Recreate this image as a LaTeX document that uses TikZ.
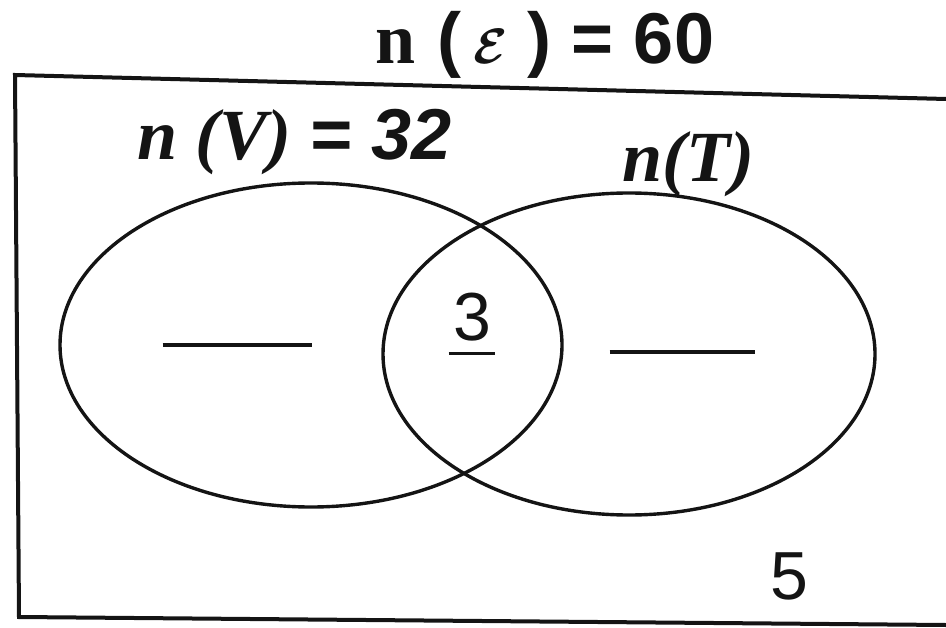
\documentclass[tikz,border=0pt]{standalone}
\usepackage{fontspec}
\usepackage{amsmath}
\usepackage{bm}
\setsansfont{Liberation Sans}
\newfontfamily\heavyserif{Liberation Serif}
\usetikzlibrary{positioning, calc}
\definecolor{myink}{RGB}{20,20,20}
\tikzset{
  setline/.style={line width=1.7pt, color=myink},
  frameline/.style={line width=2pt, color=myink, line join=miter},
  biglabel/.style={inner sep=0pt, font=\fontsize{36}{42}\selectfont, text=myink},
  numlabel/.style={inner sep=0pt, font=\fontsize{34}{40}\selectfont\sffamily, text=myink},
  blank/.style={inner sep=0pt, text=myink}
}

\begin{document}
\begin{tikzpicture}[x=0.5pt, y=0.5pt]
  \useasboundingbox (0,0) rectangle (946,627);
  % universal set frame (right side cut off)
  \coordinate (tr) at (946,528);
  \coordinate (tl) at (15,552);
  \coordinate (bl) at (19,10);
  \coordinate (br) at (946,2);
  \draw[frameline] (tr) -- (tl) -- (bl) -- (br);
  % the two sets
  \draw[setline] (311,282) ellipse [x radius=251, y radius=162];
  \draw[setline] (629,273) ellipse [x radius=246, y radius=161];
  % labels
  \node[biglabel] (univ) at (545,582)
    {{\heavyserif\bfseries n}\ {\sffamily\bfseries(\,}$\bm{\mathcal{E}}${\sffamily\bfseries\ )\ = 60}};
  \node[biglabel] (nV) at (295,485)
    {\heavyserif\bfseries\itshape n (V) {\sffamily = 32}};
  \node[biglabel] (nT) at (688,463)
    {\heavyserif\bfseries\itshape n(T)};
  \node[blank] (onlyV) at (237,282) {\rule{74.5pt}{1.6pt}};
  \node[blank] (onlyT) at (682,275) {\rule{72.5pt}{1.6pt}};
  \node[numlabel] (both) at (472,310) {3};
  \draw[setline] ($(both.south west)+(-4,-12)$) -- ($(both.south east)+(4,-12)$);
  \node[numlabel] (none) at (789,51) {5};
\end{tikzpicture}
\end{document}
